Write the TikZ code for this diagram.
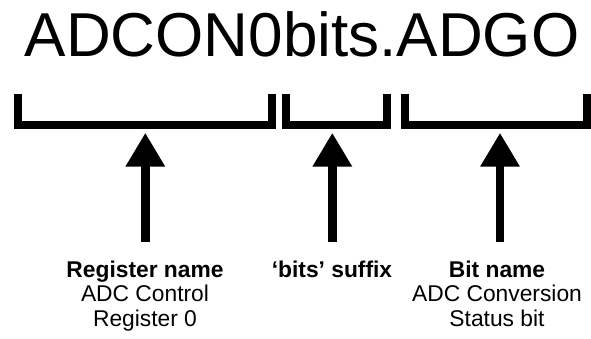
\documentclass[tikz,border=0pt]{standalone}
\usepackage{fontspec}
\setmainfont{Liberation Sans}
\begin{document}
\begin{tikzpicture}[x=1pt,y=-1pt,
  bracket/.style={line width=8pt, line join=miter, line cap=butt},
  shaft/.style={line width=8.5pt, line cap=butt},
  head/.style={fill=black},
  caption/.style={align=center, font=\fontsize{22.8}{24.5}\selectfont, inner sep=0pt, anchor=north}]
\useasboundingbox (0,0) rectangle (591,339);

% the C expression being taken apart
\node[font=\fontsize{62}{62}\selectfont, anchor=base, inner sep=0pt] (expr) at (302,56.7) {ADCON0bits.ADGO};

% brackets under the three parts of the expression
\draw[bracket] (18.3,94) -- (18.3,125.4) -- (272,125.4) -- (272,94);
\draw[bracket] (285.7,94) -- (285.7,125.4) -- (387,125.4) -- (387,94);
\draw[bracket] (405,94) -- (405,125.4) -- (587,125.4) -- (587,94);

% arrow tips just below each bracket, and where each shaft starts
\coordinate (tipA) at (145.3,133.3);
\coordinate (tipB) at (332.3,133.3);
\coordinate (tipC) at (500,133.3);
\coordinate (footA) at (145.3,241.7);
\coordinate (footB) at (332.3,241.7);
\coordinate (footC) at (500,241.7);

\foreach \n in {A,B,C}{
  \draw[shaft] (foot\n) -- ([yshift=-33pt]tip\n);
  \fill[head] (tip\n) -- ++(-20,33.4) -- ++(40,0) -- cycle;
}

% captions
\node[caption] (regname) at (145,260.4) {\textbf{Register name}\\ADC Control\\Register 0};
\node[caption] (suffix) at (332,260.4) {\textbf{‘bits’ suffix}};
\node[caption] (bitname) at (497,260.4) {\textbf{Bit name}\\ADC Conversion\\Status bit};
\end{tikzpicture}
\end{document}
